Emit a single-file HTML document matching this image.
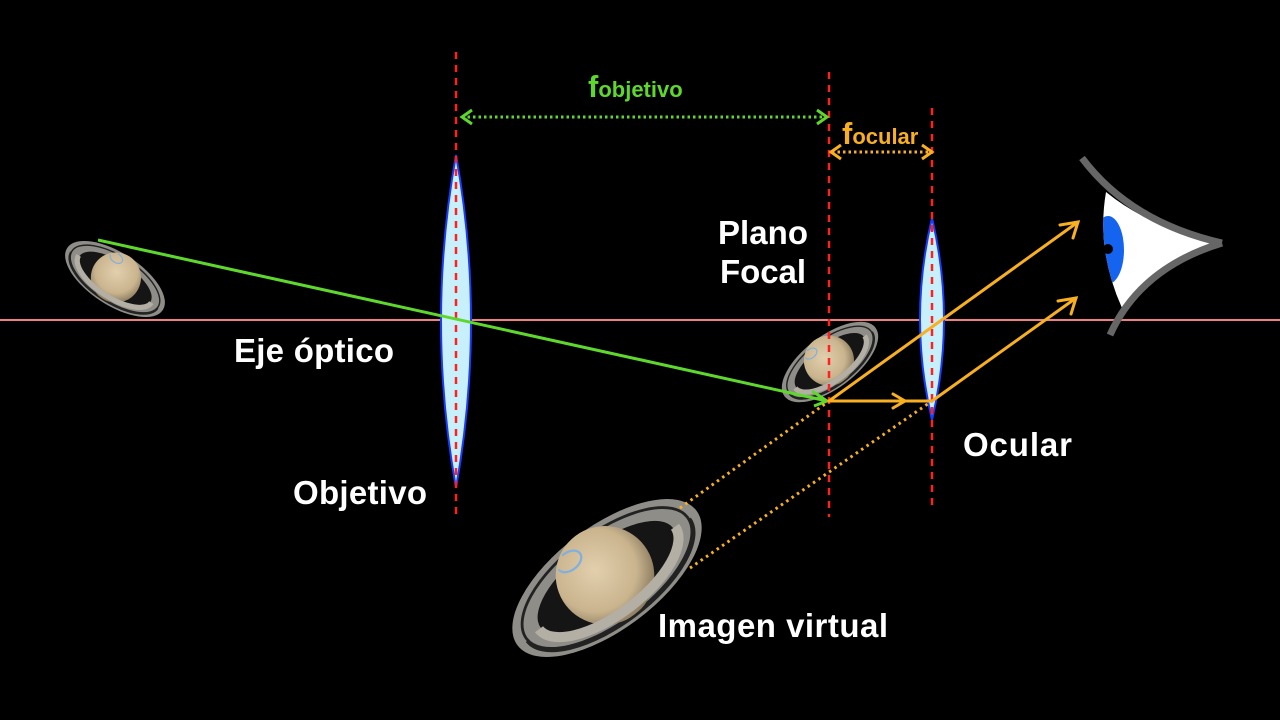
<!DOCTYPE html>
<html><head><meta charset="utf-8"><style>
html,body{margin:0;padding:0;background:#000;}
svg{display:block;}
text{font-family:"Liberation Sans",sans-serif;font-weight:bold;}
</style></head><body>
<svg width="1280" height="720" viewBox="0 0 1280 720" xmlns="http://www.w3.org/2000/svg">
<defs>
<radialGradient id="pl" cx="0.45" cy="0.4" r="0.6">
<stop offset="0" stop-color="#e2cfac"/><stop offset="0.7" stop-color="#c9b48e"/><stop offset="1" stop-color="#8f7f62"/>
</radialGradient>
<g id="sat">
<ellipse cx="0" cy="0" rx="100" ry="46" fill="#8f8d88"/>
<ellipse cx="0" cy="0" rx="90" ry="40" fill="none" stroke="#222" stroke-width="2.5"/>
<ellipse cx="0" cy="0" rx="74" ry="31" fill="#151515"/>
<circle cx="0" cy="-3" r="44" fill="url(#pl)"/>
<path d="M-76,0 A76,33 0 0 0 76,0" fill="none" stroke="#b3afa5" stroke-width="9"/>
<path d="M-91,2 A91,40 0 0 0 91,2" fill="none" stroke="#222" stroke-width="2.5"/>
<path d="M-30,-32 a12,8 0 1 0 10,-8" fill="none" stroke="#7fb0e0" stroke-width="2"/>
</g>
</defs>
<rect width="1280" height="720" fill="#000"/>

<use href="#sat" transform="translate(115,279) rotate(33) scale(0.57)"/>
<use href="#sat" transform="translate(830,362) rotate(-37) scale(0.57)"/>
<use href="#sat" transform="translate(607,578) rotate(-37) scale(1.12)"/>

<line x1="0" y1="320" x2="1280" y2="320" stroke="#f08080" stroke-width="2"/>

<path d="M456,155 Q486,321 456,488 Q426,321 456,155 Z" fill="#c8f0fb" stroke="#1a3cff" stroke-width="2"/>
<path d="M932,218 Q956,319 932,420 Q908,319 932,218 Z" fill="#c8f0fb" stroke="#1a3cff" stroke-width="2"/>

<g stroke="#ff2020" stroke-width="2.5" stroke-dasharray="7,6">
<line x1="456" y1="52" x2="456" y2="517"/>
<line x1="829" y1="72" x2="829" y2="517"/>
<line x1="932" y1="108" x2="932" y2="508"/>
</g>

<line x1="98" y1="240" x2="827" y2="401" stroke="#5fd82e" stroke-width="3"/>
<polyline points="812,391 827,401 814,406" fill="none" stroke="#5fd82e" stroke-width="3"/>

<g stroke="#f8b020" stroke-width="3" fill="none" stroke-linecap="round">
<line x1="829" y1="401" x2="932" y2="401"/>
<polyline points="893,394 905,401 893,408"/>
<line x1="829" y1="401" x2="1078" y2="222"/>
<polyline points="1060,225 1078,222 1073,238"/>
<line x1="932" y1="401" x2="1076" y2="298"/>
<polyline points="1058,301 1076,298 1071,314"/>
</g>
<g stroke="#f8b020" stroke-width="3" stroke-dasharray="2.5,4" fill="none">
<line x1="680" y1="508" x2="829" y2="401"/>
<line x1="690" y1="568" x2="932" y2="401"/>
</g>

<line x1="462" y1="117" x2="826" y2="117" stroke="#5fd82e" stroke-width="3" stroke-dasharray="2.5,3"/>
<polyline points="472,110 462,117 472,124" fill="none" stroke="#5fd82e" stroke-width="3"/>
<polyline points="817,110 827,117 817,124" fill="none" stroke="#5fd82e" stroke-width="3"/>
<line x1="832" y1="152" x2="930" y2="152" stroke="#f8b020" stroke-width="3" stroke-dasharray="2.5,3"/>
<polyline points="841,145 831,152 841,159" fill="none" stroke="#f8b020" stroke-width="3"/>
<polyline points="922,145 932,152 922,159" fill="none" stroke="#f8b020" stroke-width="3"/>

<path d="M1106,192 Q1150,228 1220,243 Q1160,262 1122,308 Q1096,250 1106,192 Z" fill="#fff"/>
<clipPath id="ec"><path d="M1106,192 Q1150,228 1220,243 Q1160,262 1122,308 Q1096,250 1106,192 Z"/></clipPath>
<ellipse cx="1108" cy="250" rx="16" ry="34" fill="#1464f0" clip-path="url(#ec)"/>
<circle cx="1108" cy="249" r="5" fill="#000"/>
<path d="M1082,158 Q1130,222 1222,243" fill="none" stroke="#666" stroke-width="7"/>
<path d="M1222,243 Q1140,268 1110,335" fill="none" stroke="#666" stroke-width="7"/>

<text x="588" y="97" font-size="31" fill="#5fd82e">f<tspan font-size="22">objetivo</tspan></text>
<text x="842" y="144" font-size="31" fill="#f8b020">f<tspan font-size="22">ocular</tspan></text>
<g fill="#fff" font-size="33">
<text x="718" y="244" textLength="90">Plano</text>
<text x="720" y="283" textLength="86">Focal</text>
<text x="234" y="362" textLength="160">Eje óptico</text>
<text x="293" y="504" textLength="134">Objetivo</text>
<text x="963" y="456" textLength="109">Ocular</text>
<text x="658" y="637" textLength="230">Imagen virtual</text>
</g>
</svg>
</body></html>
